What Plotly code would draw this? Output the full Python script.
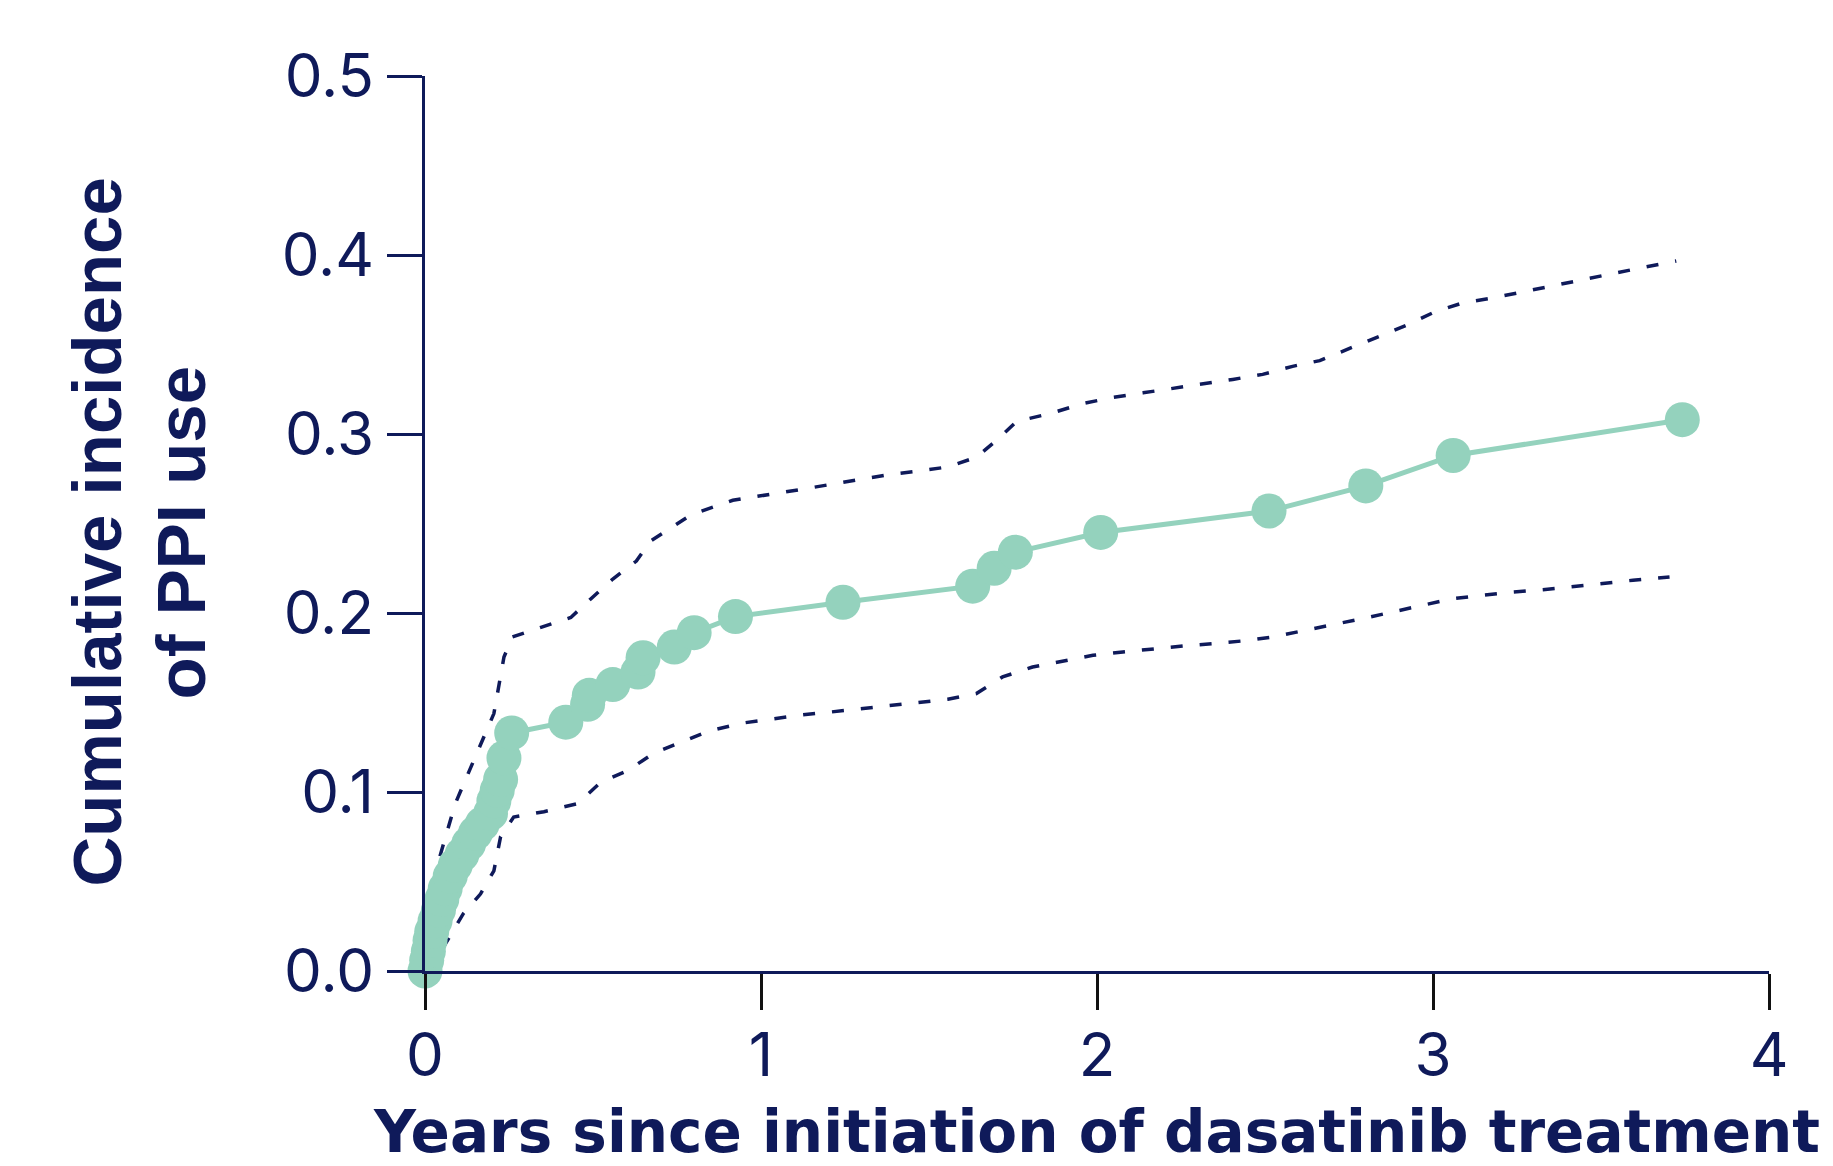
import plotly.graph_objects as go

# Cumulative incidence estimate (years, incidence)
ci_years = [0.0, 0.005, 0.01, 0.015, 0.02, 0.03, 0.04, 0.05, 0.06, 0.075, 0.09, 0.11, 0.13, 0.15,
            0.17, 0.195, 0.205, 0.215, 0.225, 0.235, 0.258,
            0.419, 0.484, 0.489, 0.559, 0.634, 0.649, 0.742, 0.801, 0.924,
            1.244, 1.630, 1.694, 1.757, 2.011, 2.512, 2.800, 3.060, 3.742]
ci_values = [0.0, 0.006, 0.011, 0.017, 0.022, 0.028, 0.034, 0.040, 0.046, 0.053, 0.059, 0.065, 0.071, 0.077,
             0.082, 0.088, 0.095, 0.101, 0.107, 0.119, 0.133,
             0.139, 0.149, 0.154, 0.160, 0.167, 0.175, 0.181, 0.189, 0.198,
             0.206, 0.215, 0.225, 0.234, 0.245, 0.257, 0.271, 0.288, 0.308]

# Upper 95% confidence bound
upper_years = [0.0, 0.035, 0.09, 0.155, 0.205, 0.235, 0.26, 0.345, 0.434, 0.494, 0.559, 0.629,
               0.67, 0.793, 0.916, 1.118, 1.208, 1.297, 1.387, 1.477, 1.556, 1.641, 1.701, 1.761,
               1.860, 1.958, 2.048, 2.137, 2.225, 2.315, 2.404, 2.493, 2.582, 2.663, 2.805, 2.920,
               3.005, 3.088, 3.178, 3.267, 3.356, 3.446, 3.535, 3.624, 3.724]
upper_values = [0.0, 0.058, 0.0935, 0.1214, 0.1438, 0.1754, 0.1866, 0.192, 0.1975, 0.208, 0.219, 0.229,
                0.24, 0.255, 0.263, 0.269, 0.272, 0.2747, 0.2775, 0.2795, 0.2816, 0.287, 0.2965, 0.307,
                0.3114, 0.317, 0.3205, 0.323, 0.3255, 0.3277, 0.3305, 0.3333, 0.3378, 0.341, 0.3516, 0.3607,
                0.3682, 0.3732, 0.376, 0.3793, 0.3827, 0.3858, 0.3896, 0.393, 0.3966]

# Lower 95% confidence bound
lower_years = [0.0, 0.06, 0.114, 0.165, 0.205, 0.225, 0.264, 0.354, 0.454, 0.524, 0.604, 0.679,
               0.764, 0.844, 0.944, 1.114, 1.208, 1.297, 1.387, 1.477, 1.556, 1.641, 1.719, 1.808,
               1.898, 1.988, 2.077, 2.167, 2.256, 2.344, 2.434, 2.523, 2.613, 2.702, 2.791, 2.880,
               2.969, 3.058, 3.148, 3.237, 3.327, 3.416, 3.505, 3.595, 3.704]
lower_values = [0.0, 0.015, 0.032, 0.043, 0.056, 0.075, 0.086, 0.089, 0.0935, 0.1056, 0.112, 0.1215,
                0.128, 0.134, 0.1385, 0.1429, 0.1447, 0.1466, 0.1484, 0.15, 0.1518, 0.155, 0.1643, 0.1698,
                0.1732, 0.1764, 0.1782, 0.1801, 0.1816, 0.1829, 0.1844, 0.1866, 0.19, 0.1931, 0.1969, 0.2006,
                0.2043, 0.208, 0.2099, 0.2117, 0.213, 0.2149, 0.2168, 0.2183, 0.2201]

x_ticks = [0, 1, 2, 3, 4]
y_ticks = [0.0, 0.1, 0.2, 0.3, 0.4, 0.5]

x_title = "Years since initiation of dasatinib treatment"
y_title_lines = ["Cumulative incidence", "of PPI use"]

NAVY = "#0f1a5a"
MINT = "#94d2bd"

fig = go.Figure()
fig.add_trace(go.Scatter(x=upper_years, y=upper_values, mode="lines",
                         line=dict(color=NAVY, width=3.5, dash="12px,17px"),
                         hoverinfo="skip", showlegend=False, cliponaxis=False))
fig.add_trace(go.Scatter(x=lower_years, y=lower_values, mode="lines",
                         line=dict(color=NAVY, width=3.5, dash="12px,17px"),
                         hoverinfo="skip", showlegend=False, cliponaxis=False))
fig.add_trace(go.Scatter(x=ci_years, y=ci_values, mode="lines+markers",
                         line=dict(color=MINT, width=5),
                         marker=dict(color=MINT, size=35, line=dict(width=0)),
                         showlegend=False, cliponaxis=False))

fig.update_layout(
    width=1825, height=1158,
    margin=dict(l=417, r=64, t=68, b=195),
    paper_bgcolor="white", plot_bgcolor="white",
    font=dict(family="Inter", color=NAVY),
)
fig.update_xaxes(
    range=[0, 4], tickvals=x_ticks, ticktext=[str(v) for v in x_ticks],
    showgrid=False, zeroline=False,
    showline=True, linecolor=NAVY, linewidth=3,
    ticks="outside", ticklen=36, tickwidth=3, tickcolor="#111111",
    tickfont=dict(family="Inter", size=60, color=NAVY),
    ticklabelstandoff=-6,
    title=dict(text=x_title,
               font=dict(family="DejaVu Sans", size=58, color=NAVY, weight="bold"),
               standoff=24),
)
fig.update_yaxes(
    range=[0, 0.5], tickvals=y_ticks, tickformat=".1f",
    showgrid=False, zeroline=False,
    showline=True, linecolor=NAVY, linewidth=3,
    ticks="outside", ticklen=35, tickwidth=3, tickcolor=NAVY,
    tickfont=dict(family="Inter", size=60, color=NAVY),
    ticklabelstandoff=1,
)

# Two-line rotated y-axis title
for txt, xpos in zip(y_title_lines, [-0.244, -0.1815]):
    fig.add_annotation(text=txt, xref="paper", yref="paper", x=xpos, y=0.49,
                       xanchor="center", yanchor="middle", textangle=-90, showarrow=False,
                       font=dict(family="Liberation Sans", size=69, color=NAVY, weight="bold"))

fig.write_html("out.html")
